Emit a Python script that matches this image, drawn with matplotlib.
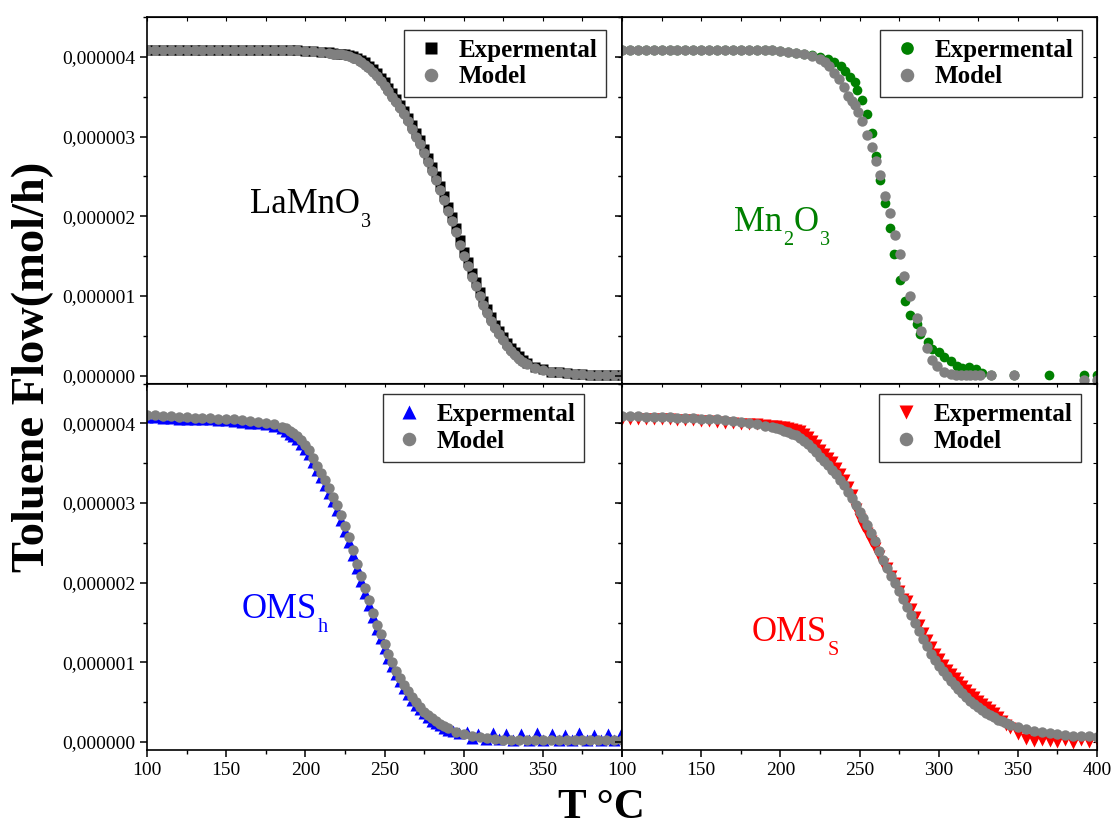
import matplotlib.pyplot as plt
from matplotlib.ticker import MultipleLocator, FuncFormatter

plt.rcParams['font.family'] = 'Liberation Serif'

# toluene flow in umol/h vs temperature (C)

# --- LaMnO3 ---
la_T = [100, 105, 110, 115, 120, 125, 130, 135, 140, 145, 150, 155, 160, 165, 170, 175, 180, 185, 190, 195,
        200, 205, 210, 215,
        217.5, 220, 222.5, 225, 227.5, 230, 232.5, 235, 237.5, 240, 242.5, 245, 247.5, 250, 252.5, 255,
        257.5, 260, 262.5, 265, 267.5, 270, 272.5, 275, 277.5, 280, 282.5, 285, 287.5, 290, 292.5, 295,
        297.5, 300, 302.5, 305, 307.5, 310, 312.5, 315, 317.5, 320, 322.5, 325, 327.5, 330, 332.5, 335,
        337.5, 340,
        345, 350, 355, 360, 365, 370, 375, 380, 385, 390, 395, 400]
la_exp = [4.08, 4.08, 4.08, 4.08, 4.08, 4.08, 4.08, 4.08, 4.08, 4.08, 4.08, 4.08, 4.08, 4.08, 4.08, 4.08,
          4.08, 4.08, 4.08, 4.08, 4.07, 4.07, 4.06, 4.06,
          4.05, 4.04, 4.04, 4.03, 4.02, 4.01, 3.99, 3.96, 3.93, 3.89, 3.85, 3.80, 3.74, 3.68, 3.61, 3.54,
          3.47, 3.40, 3.32, 3.23, 3.14, 3.05, 2.95, 2.84, 2.73, 2.62, 2.50, 2.38, 2.25, 2.12, 1.99, 1.85,
          1.70, 1.55, 1.42, 1.29, 1.17, 1.05, 0.94, 0.83, 0.73, 0.64, 0.56, 0.48, 0.41, 0.34, 0.29, 0.24,
          0.19, 0.16,
          0.11, 0.08, 0.05, 0.04, 0.03, 0.02, 0.02, 0.01, 0.01, 0.01, 0.01, 0.01]
la_model = [4.08, 4.08, 4.08, 4.08, 4.08, 4.08, 4.08, 4.08, 4.08, 4.08, 4.08, 4.08, 4.08, 4.08, 4.08, 4.08,
            4.08, 4.08, 4.08, 4.08, 4.07, 4.07, 4.06, 4.05,
            4.04, 4.04, 4.03, 4.02, 4.01, 3.99, 3.97, 3.94, 3.90, 3.86, 3.81, 3.76, 3.70, 3.64, 3.57, 3.50,
            3.43, 3.36, 3.28, 3.19, 3.10, 3.00, 2.90, 2.79, 2.68, 2.57, 2.45, 2.33, 2.20, 2.07, 1.94, 1.80,
            1.64, 1.50, 1.37, 1.24, 1.12, 1.00, 0.89, 0.78, 0.69, 0.60, 0.52, 0.44, 0.37, 0.31, 0.26, 0.21,
            0.17, 0.14,
            0.10, 0.07, 0.05, 0.04, 0.03, 0.02, 0.02, 0.01, 0.01, 0.01, 0.01, 0.01]

# --- Mn2O3 ---
mn_T_exp = [100, 105, 110, 115, 120, 125, 130, 135, 140, 145, 150, 155, 160, 165, 170, 175, 180, 185, 190,
            195, 200, 205, 210, 215, 220, 225, 230,
            234, 238, 241, 244, 247, 248.5, 251.5, 254.5, 258, 260.5, 263, 266, 269.5, 272, 275.5, 278.5,
            282, 286, 288.5, 293, 296, 300, 303.5, 307.5, 311.5, 315, 319, 323.5, 327.5, 333, 347.5, 369.5,
            391.5, 400]
mn_exp = [4.08, 4.08, 4.08, 4.08, 4.08, 4.08, 4.08, 4.08, 4.08, 4.08, 4.08, 4.08, 4.08, 4.08, 4.08, 4.08,
          4.08, 4.08, 4.08, 4.08, 4.07, 4.06, 4.05, 4.04, 4.02, 4.00, 3.97,
          3.94, 3.88, 3.82, 3.75, 3.68, 3.58, 3.46, 3.28, 3.04, 2.75, 2.46, 2.16, 1.85, 1.53, 1.20, 0.93,
          0.76, 0.65, 0.52, 0.42, 0.33, 0.29, 0.23, 0.18, 0.12, 0.10, 0.11, 0.08, 0.03, 0.01, 0.01, 0.01,
          0.01, 0.01]
mn_T_model = [100, 105, 110, 115, 120, 125, 130, 135, 140, 145, 150, 155, 160, 165, 170, 175, 180, 185, 190,
              195, 200, 205, 210, 215, 220, 225,
              228, 231, 234, 237, 240, 242.7, 245, 247.2, 249, 251.5, 254.6, 257.8, 260.5, 263.1, 266.2,
              269.4, 272.5, 275.3, 278.4, 282.2, 286, 288.6, 292.4, 296, 299.2, 303.3, 307.6, 311, 314, 317,
              320, 323, 326, 333, 347.5, 391.5, 400]
mn_model = [4.08, 4.08, 4.08, 4.08, 4.08, 4.08, 4.08, 4.08, 4.08, 4.08, 4.08, 4.08, 4.08, 4.08, 4.08, 4.08,
            4.08, 4.08, 4.08, 4.08, 4.07, 4.06, 4.05, 4.03, 4.01, 3.97,
            3.93, 3.88, 3.80, 3.72, 3.62, 3.51, 3.45, 3.39, 3.31, 3.19, 3.02, 2.87, 2.69, 2.52, 2.25, 2.04,
            1.77, 1.53, 1.25, 1.00, 0.72, 0.56, 0.35, 0.20, 0.12, 0.05, 0.02, 0.01, 0.01, 0.01, 0.01, 0.01,
            0.01, 0.01, 0.01, -0.05, -0.05]

# --- OMS-h ---
omh_T = [100, 105, 110, 115, 120, 125, 130, 135, 140, 145, 150, 155, 160, 165, 170, 175, 180, 185,
         187.5, 190, 192.5, 195, 197.5, 200, 202.5, 205, 207.5, 210, 212.5, 215, 217.5, 220, 222.5, 225,
         227.5, 230, 232.5, 235, 237.5, 240, 242.5, 245, 247.5, 250, 252.5, 255, 257.5, 260, 262.5, 265,
         267.5, 270, 272.5, 275, 277.5, 280, 282.5, 285, 287.5, 290,
         295, 300, 305, 310, 315, 320, 325, 330, 335, 340, 345, 350, 355, 360, 365, 370, 375, 380, 385,
         390, 395, 400]
omh_model = [4.10, 4.10, 4.09, 4.09, 4.08, 4.08, 4.07, 4.07, 4.07, 4.06, 4.06, 4.05, 4.04, 4.03, 4.02,
             4.01, 3.99, 3.96,
             3.94, 3.91, 3.88, 3.84, 3.79, 3.73, 3.66, 3.57, 3.47, 3.38, 3.29, 3.19, 3.08, 2.97, 2.85, 2.71,
             2.57, 2.41, 2.24, 2.08, 1.93, 1.78, 1.62, 1.47, 1.35, 1.23, 1.11, 1.00, 0.89, 0.80, 0.72, 0.64,
             0.56, 0.50, 0.44, 0.38, 0.34, 0.30, 0.26, 0.23, 0.20, 0.17,
             0.13, 0.10, 0.08, 0.06, 0.05, 0.04, 0.03, 0.03, 0.03, 0.02, 0.02, 0.02, 0.02, 0.02, 0.02, 0.02,
             0.02, 0.02, 0.02, 0.02, 0.02, 0.02]
omh_T_exp = [100, 105, 110, 115, 120, 125, 130, 135, 140, 145, 150, 155, 160, 165, 170, 175, 180, 185,
             187.5, 190, 192.5, 195, 197.5, 200, 202.5, 205, 207.5, 210, 212.5, 215, 217.5, 220, 222.5, 225,
             227.5, 230, 232.5, 235, 237.5, 240, 242.5, 245, 247.5, 250, 252.5, 255, 257.5, 260, 262.5, 265,
             267.5, 270, 272.5, 275, 277.5, 280, 282.5, 285, 287.5, 290,
             293, 297, 302, 305.5, 309, 314, 318.5, 322, 327, 331, 336.5, 341, 346, 350, 355.5, 360, 364,
             368.5, 373, 378, 382.5, 387, 391, 395, 399.5]
omh_exp = [4.08, 4.08, 4.07, 4.07, 4.06, 4.06, 4.05, 4.05, 4.05, 4.04, 4.04, 4.03, 4.02, 4.01, 4.00, 3.99,
           3.97, 3.94,
           3.90, 3.87, 3.84, 3.80, 3.74, 3.68, 3.61, 3.52, 3.42, 3.33, 3.23, 3.13, 3.02, 2.91, 2.79, 2.65,
           2.51, 2.35, 2.18, 2.02, 1.87, 1.72, 1.57, 1.42, 1.30, 1.18, 1.06, 0.95, 0.85, 0.76, 0.68, 0.60,
           0.53, 0.47, 0.41, 0.36, 0.31, 0.27, 0.24, 0.21, 0.18, 0.15,
           0.14, 0.11, 0.12, 0.05, 0.10, 0.04, 0.11, 0.04, 0.10, 0.03, 0.10, 0.03, 0.11, 0.03, 0.10, 0.03,
           0.09, 0.03, 0.11, 0.03, 0.09, 0.03, 0.10, 0.03, 0.10]

# --- OMS-s ---
oms_T = [100, 105, 110, 115, 120, 125, 130, 135, 140, 145, 150, 155, 160, 165, 170, 175, 180, 185, 190, 195,
         197.5, 200, 202.5, 205, 207.5, 210, 212.5, 215, 217.5, 220, 222.5, 225, 227.5, 230, 232.5, 235,
         237.5, 240, 242.5, 245, 247.5, 250, 252.5, 255, 257.5, 260, 262.5, 265, 267.5, 270, 272.5, 275,
         277.5, 280, 282.5, 285, 287.5, 290, 292.5, 295, 297.5, 300, 302.5, 305, 307.5, 310, 312.5, 315,
         317.5, 320, 322.5, 325, 327.5, 330, 332.5, 335, 337.5, 340, 342.5, 345,
         350, 355, 360, 365, 370, 375, 380, 385, 390, 395, 400]
oms_model = [4.09, 4.09, 4.09, 4.08, 4.08, 4.08, 4.08, 4.07, 4.07, 4.07, 4.06, 4.06, 4.05, 4.04, 4.03, 4.02,
             4.00, 3.99, 3.97, 3.95,
             3.94, 3.93, 3.91, 3.89, 3.87, 3.85, 3.82, 3.78, 3.74, 3.69, 3.64, 3.58, 3.53, 3.48, 3.42, 3.36,
             3.29, 3.22, 3.14, 3.06, 2.98, 2.89, 2.81, 2.72, 2.62, 2.52, 2.40, 2.29, 2.19, 2.09, 1.99, 1.89,
             1.79, 1.69, 1.59, 1.49, 1.39, 1.29, 1.20, 1.11, 1.03, 0.96, 0.89, 0.83, 0.77, 0.72, 0.67, 0.62,
             0.57, 0.52, 0.48, 0.44, 0.40, 0.37, 0.34, 0.31, 0.28, 0.26, 0.24, 0.22,
             0.19, 0.16, 0.14, 0.12, 0.11, 0.10, 0.09, 0.08, 0.07, 0.07, 0.06]
oms_exp = [4.06, 4.06, 4.06, 4.05, 4.05, 4.05, 4.05, 4.04, 4.04, 4.04, 4.03, 4.03, 4.02, 4.01, 4.00, 3.99,
           3.99, 3.99, 3.98, 3.97,
           3.97, 3.96, 3.95, 3.94, 3.93, 3.92, 3.90, 3.87, 3.83, 3.78, 3.73, 3.67, 3.62, 3.57, 3.51, 3.44,
           3.37, 3.29, 3.20, 3.10, 2.93, 2.80, 2.71, 2.62, 2.52, 2.43, 2.33, 2.23, 2.19, 2.09, 1.99, 1.89,
           1.80, 1.77, 1.67, 1.57, 1.47, 1.37, 1.28, 1.19, 1.11, 1.04, 0.97, 0.91, 0.85, 0.80, 0.75, 0.70,
           0.65, 0.60, 0.56, 0.52, 0.48, 0.44, 0.40, 0.36, 0.32, 0.26, 0.22, 0.18,
           0.10, 0.04, 0.01, 0.03, 0.01, 0.00, 0.02, -0.01, 0.03, 0.00, 0.03]

GREY = '#808080'
UNIT = 1e-6

panels = [
    # (T exp, exp, T model, model, marker, size, colour, formula parts, label x, label y, legend anchor)
    (la_T, la_exp, la_T, la_model, 's', 6.5, 'black',
     [('LaMnO', 0), ('3', 1)], 165, 2.04, (0.966, 0.965)),
    (mn_T_exp, mn_exp, mn_T_model, mn_model, 'o', 7.0, '#008000',
     [('Mn', 0), ('2', 1), ('O', 0), ('3', 1)], 171, 1.81, (0.968, 0.965)),
    (omh_T_exp, omh_exp, omh_T, omh_model, '^', 8.0, '#0000FF',
     [('OMS', 0), ('h', 1)], 160, 1.56, (0.92, 0.97)),
    (oms_T, oms_exp, oms_T, oms_model, 'v', 8.0, '#FF0000',
     [('OMS', 0), ('S', 1)], 182, 1.27, (0.966, 0.97)),
]

fig = plt.figure(figsize=(11.14, 8.25), dpi=100)
gs = fig.add_gridspec(2, 2, left=147 / 1114, right=1097 / 1114, top=1 - 17 / 825, bottom=1 - 750 / 825,
                      wspace=0, hspace=0)
renderer = fig.canvas.get_renderer()

ytick_fmt = FuncFormatter(lambda v, p: ('%.6f' % v).replace('.', ','))


def formula(ax, x, y, parts, color):
    # write a chemical formula with dropped subscripts, piece by piece
    dx = 0
    for s, sub in parts:
        t = ax.annotate(s, (x, y), xytext=(dx, -14 if sub else 0), textcoords='offset pixels',
                        fontsize=14.5 if sub else 25, color=color, va='baseline', ha='left')
        dx += t.get_window_extent(renderer).width + (1 if not sub else 0)


for i, (te, ye, tm, ym, mk, ms, col, parts, lx, ly, anchor) in enumerate(panels):
    r, c = divmod(i, 2)
    ax = fig.add_subplot(gs[r, c])
    ax.plot(te, [v * UNIT for v in ye], ls='none', marker=mk, ms=ms, color=col, mec='none', label='Expermental')
    ax.plot(tm, [v * UNIT for v in ym], ls='none', marker='o', ms=7.5, color=GREY, mec='none', label='Model')

    ax.set_xlim(100, 400)
    ax.set_ylim(-0.1e-6, 4.5e-6)
    ax.xaxis.set_major_locator(MultipleLocator(50))
    ax.xaxis.set_minor_locator(MultipleLocator(25))
    ax.yaxis.set_major_locator(MultipleLocator(1e-6))
    ax.yaxis.set_minor_locator(MultipleLocator(0.5e-6))
    ax.yaxis.set_major_formatter(ytick_fmt)
    if c == 0 and r == 1:
        ax.xaxis.set_major_formatter(FuncFormatter(lambda v, p: '' if v >= 400 else '%d' % v))
    ax.tick_params(which='major', direction='out', length=5, width=1.1, labelsize=14)
    ax.tick_params(which='minor', direction='out', length=3, width=1.0)
    ax.tick_params(labelleft=(c == 0), labelbottom=(r == 1))
    for s in ax.spines.values():
        s.set_linewidth(1.2)

    # inward ticks on the opposite edges
    top = ax.secondary_xaxis('top')
    top.xaxis.set_major_locator(MultipleLocator(50))
    top.xaxis.set_minor_locator(MultipleLocator(25))
    top.tick_params(which='both', direction='in', length=3, width=0.8, labeltop=False)
    right = ax.secondary_yaxis('right')
    right.yaxis.set_major_locator(MultipleLocator(1e-6))
    right.yaxis.set_minor_locator(MultipleLocator(0.5e-6))
    right.tick_params(which='both', direction='in', length=3, width=0.8, labelright=False)

    formula(ax, lx, ly * UNIT, parts, col)

    leg = ax.legend(loc='upper right', bbox_to_anchor=anchor, borderaxespad=0, fancybox=False,
                    edgecolor='#333333', framealpha=1, prop={'weight': 'bold', 'size': 18},
                    handletextpad=0.4, labelspacing=0.15, borderpad=0.35, handlelength=1.4,
                    markerscale=1.3)
    leg.get_frame().set_linewidth(1.0)

fig.text(33 / 1114, 1 - 367 / 825, 'Toluene Flow(mol/h)', rotation=90, fontsize=33.5, fontweight='bold',
         ha='center', va='center')
fig.text(601 / 1114, 7 / 825, 'T °C', fontsize=31, fontweight='bold', ha='center', va='baseline')

fig.savefig('out.png', dpi=100)
